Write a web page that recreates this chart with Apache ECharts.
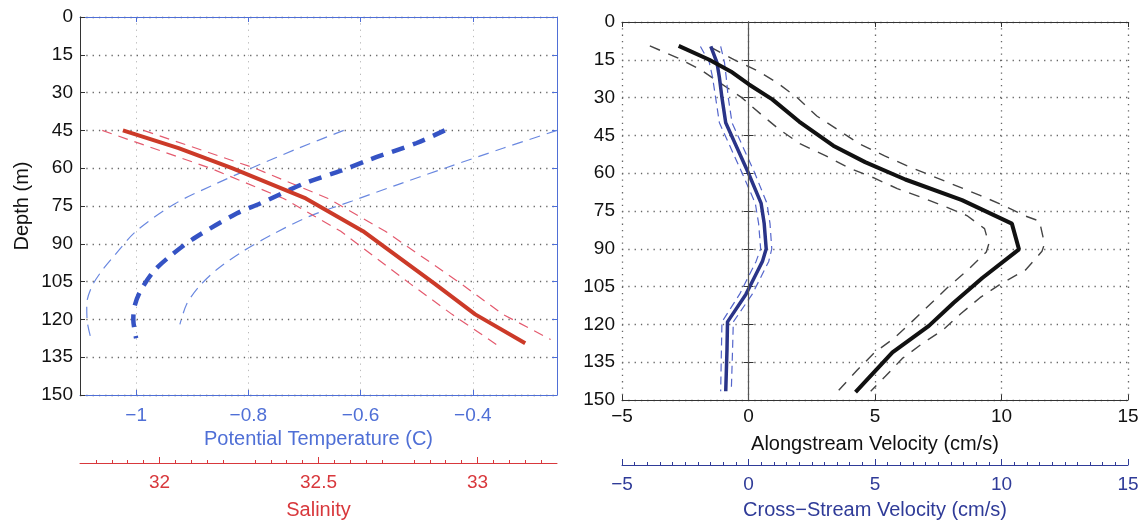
<!DOCTYPE html>
<html><head><meta charset="utf-8">
<script src="https://cdn.jsdelivr.net/npm/echarts@6/dist/echarts.min.js"></script>
<style>html,body{margin:0;padding:0;background:#fff}#c{width:1144px;height:525px}</style>
</head><body><div id="c"></div>
<script>
// ---------------- data ----------------
// Left panel: salinity profile (red) vs depth (m)
const salDepth   = [45, 52, 60, 72, 85, 106, 118, 129.5];
const salinity   = [31.885, 32.06, 32.228, 32.46, 32.64, 32.867, 32.993, 33.15];
const salLoDepth = [45, 60, 72, 85, 106, 118, 130];
const salLo      = [31.82, 32.16, 32.39, 32.57, 32.79, 32.92, 33.06];
const salHiDepth = [45, 60, 72, 85, 106, 118, 128];
const salHi      = [31.95, 32.30, 32.53, 32.71, 32.95, 33.08, 33.23];

// Left panel: potential temperature (blue dashed) vs depth
const tempDepth   = [45, 50, 56.5, 61, 66, 74, 78, 88, 95, 101, 109, 115, 120, 127.5];
const temperature = [-0.45, -0.50, -0.583, -0.635, -0.70, -0.779, -0.821, -0.898, -0.94, -0.969, -0.993, -1.003, -1.005, -1.0];
const tempLoDepth = [45, 52, 60, 66, 74, 85, 95, 101, 107, 114, 121, 128];
const tempLo      = [-0.63, -0.71, -0.795, -0.856, -0.93, -1.0, -1.04, -1.062, -1.079, -1.088, -1.087, -1.08];
const tempHiDepth = [45, 52, 60, 67, 73, 79, 86, 93, 100, 107, 114, 122];
const tempHi      = [-0.25, -0.345, -0.45, -0.54, -0.615, -0.69, -0.755, -0.81, -0.855, -0.888, -0.91, -0.922];

// Right panel: alongstream velocity (black) vs depth
const alongDepth   = [9.5, 15, 19.6, 24.8, 30.7, 39.5, 49.1, 55.6, 62.5, 70.7, 80, 90.2, 101.6, 111.4, 120.6, 131.1, 146.9];
const along        = [-2.76, -1.55, -0.70, 0.02, 0.94, 2.0, 3.35, 4.61, 6.2, 8.44, 10.41, 10.69, 9.24, 8.11, 7.13, 5.69, 4.23];
const alongLoDepth = [9.5, 14.3, 18.9, 29.9, 36.6, 42.5, 48.4, 53.1, 57.9, 61.8, 66.1, 70, 73, 76.8, 82, 88, 91.3, 98.4, 104.7, 111.8, 119, 125.6, 131, 138.2, 148];
const alongLo      = [-3.9, -2.78, -1.9, -0.28, 0.49, 1.2, 2.05, 3.06, 3.96, 4.94, 5.88, 6.94, 7.72, 8.63, 9.33, 9.5, 9.4, 8.67, 7.94, 7.2, 6.45, 5.74, 5.0, 4.29, 3.4];
const alongHiDepth = [10, 15.3, 19.3, 24, 29.9, 37.3, 42.5, 48.4, 53.1, 57, 64.8, 68.8, 72.7, 76.8, 79, 88, 91, 98.4, 104, 109.4, 115.7, 122.4, 127.6, 133.5, 140.6, 146.5];
const alongHi      = [-1.5, -0.5, 0.34, 1.12, 1.91, 2.7, 3.49, 4.4, 5.38, 6.25, 8.17, 9.15, 10.06, 10.89, 11.5, 11.7, 11.6, 10.95, 9.96, 9.15, 8.4, 7.66, 6.87, 6.08, 5.41, 4.83];

// Right panel: cross-stream velocity (navy) vs depth
const crossDepth = [9.7, 16, 22, 30, 40, 60, 72, 80, 90, 95, 100, 108, 119, 130, 146.5];
const cross      = [-1.49, -1.25, -1.15, -1.05, -0.9, 0.0, 0.5, 0.62, 0.7, 0.55, 0.3, -0.1, -0.83, -0.85, -0.9];
const crossLo    = [-1.9, -1.55, -1.42, -1.3, -1.15, -0.25, 0.27, 0.4, 0.48, 0.3, 0.05, -0.35, -1.05, -1.07, -1.1];
const crossHi    = [-1.1, -0.95, -0.88, -0.8, -0.65, 0.25, 0.73, 0.85, 0.92, 0.8, 0.55, 0.15, -0.6, -0.63, -0.68];

// tick labels
const tempTicks = [-1, -0.8, -0.6, -0.4];
const salTicks  = [32, 32.5, 33];
const velTicks  = [-5, 0, 5, 10, 15];
const zeroLine  = [0];

// ---------------- chart ----------------
const FONT = "'Liberation Sans', Arial, Helvetica, sans-serif";
const pairs = (xs, ds) => xs.map((x, i) => [x, ds[i]]);
const fmt = v => String(+v.toFixed(2)).replace('-', '\u2212');

const BLUE_AX = '#4f6fd6', RED_AX = '#d8383c', NAVY_AX = '#2f3b98', DARK = '#333';
const gridDot = { color: '#666', width: 1.3, type: [1.3, 5] };

function depthAxis(grid, pos, showLabels, lineColor, extra) {
  return Object.assign({
    type: 'value', gridIndex: grid, position: pos, inverse: true,
    min: 0, max: 150, interval: 15,
    axisLine: { show: true, lineStyle: { color: lineColor, width: 1 } },
    axisTick: { show: true, inside: true, length: 5, lineStyle: { color: lineColor } },
    axisLabel: { show: showLabels, color: '#111', fontSize: 19, fontFamily: FONT, margin: 7 },
    splitLine: { show: showLabels, lineStyle: gridDot }
  }, extra || {});
}

const option = {
  animation: false,
  backgroundColor: '#fff',
  grid: [
    { left: 80, top: 17, width: 477, height: 380, show: false },
    { left: 622, top: 22, width: 506, height: 381, show: false }
  ],
  xAxis: [
    // 0: temperature (left, bottom)
    { type: 'value', gridIndex: 0, position: 'bottom', min: -1.1, max: -0.25,
      name: 'Potential Temperature (C)', nameLocation: 'middle', nameGap: 34,
      nameTextStyle: { color: BLUE_AX, fontSize: 20, fontFamily: FONT },
      axisLine: { show: true, onZero: false, lineStyle: { color: BLUE_AX } },
      axisTick: { show: true, inside: true, length: 5, customValues: tempTicks, lineStyle: { color: BLUE_AX } },
      axisLabel: { customValues: tempTicks, color: BLUE_AX, fontSize: 19, fontFamily: FONT, margin: 11, formatter: fmt },
      splitLine: { show: true, lineStyle: { color: '#bbb', width: 1, type: [1.3, 5] } } },
    // 1: salinity (left, offset below)
    { type: 'value', gridIndex: 0, position: 'bottom', offset: 68, min: 31.75, max: 33.25, interval: 0.25,
      name: 'Salinity', nameLocation: 'middle', nameGap: 37,
      nameTextStyle: { color: RED_AX, fontSize: 20, fontFamily: FONT },
      axisLine: { show: true, onZero: false, lineStyle: { color: RED_AX } },
      axisTick: { show: true, inside: true, length: 6, customValues: salTicks, lineStyle: { color: RED_AX } },
      minorTick: { show: true, splitNumber: 5, length: 3, lineStyle: { color: RED_AX } },
      axisLabel: { customValues: salTicks, color: RED_AX, fontSize: 19, fontFamily: FONT, margin: 10, formatter: fmt },
      splitLine: { show: false } },
    // 2: left top mirror
    { type: 'value', gridIndex: 0, position: 'top', min: -1.1, max: -0.25,
      axisLine: { show: true, onZero: false, lineStyle: { color: BLUE_AX } },
      axisTick: { show: true, inside: true, length: 5, customValues: tempTicks, lineStyle: { color: BLUE_AX } },
      axisLabel: { show: false }, splitLine: { show: false } },
    // 3: alongstream (right, bottom)
    { type: 'value', gridIndex: 1, position: 'bottom', min: -5, max: 15, interval: 5,
      name: 'Alongstream Velocity (cm/s)', nameLocation: 'middle', nameGap: 34,
      nameTextStyle: { color: '#111', fontSize: 20, fontFamily: FONT },
      axisLine: { show: true, onZero: false, lineStyle: { color: DARK } },
      axisTick: { show: true, inside: true, length: 5, lineStyle: { color: DARK } },
      axisLabel: { color: '#111', fontSize: 19, fontFamily: FONT, margin: 7, formatter: fmt },
      splitLine: { show: true, lineStyle: gridDot } },
    // 4: cross-stream (right, offset below)
    { type: 'value', gridIndex: 1, position: 'bottom', offset: 65, min: -5, max: 15, interval: 5,
      name: 'Cross\u2212Stream Velocity (cm/s)', nameLocation: 'middle', nameGap: 35,
      nameTextStyle: { color: NAVY_AX, fontSize: 20, fontFamily: FONT },
      axisLine: { show: true, onZero: false, lineStyle: { color: NAVY_AX } },
      axisTick: { show: true, inside: true, length: 6, lineStyle: { color: NAVY_AX } },
      minorTick: { show: true, splitNumber: 10, length: 3, lineStyle: { color: NAVY_AX } },
      axisLabel: { color: NAVY_AX, fontSize: 19, fontFamily: FONT, margin: 10, formatter: fmt },
      splitLine: { show: false } },
    // 5: right top mirror
    { type: 'value', gridIndex: 1, position: 'top', min: -5, max: 15, interval: 5,
      axisLine: { show: true, onZero: false, lineStyle: { color: DARK } },
      axisTick: { show: true, inside: true, length: 5, lineStyle: { color: DARK } },
      axisLabel: { show: false }, splitLine: { show: false } }
  ],
  yAxis: [
    depthAxis(0, 'left', true, DARK, {
      name: 'Depth (m)', nameLocation: 'middle', nameGap: 48,
      nameTextStyle: { color: '#111', fontSize: 20, fontFamily: FONT }
    }),
    depthAxis(0, 'right', false, BLUE_AX),
    depthAxis(1, 'left', true, DARK),
    depthAxis(1, 'right', false, DARK)
  ],
  series: [
    // left: temperature CI
    { type: 'line', xAxisIndex: 0, yAxisIndex: 0, data: pairs(tempLo, tempLoDepth), symbol: 'none', smooth: 0.3,
      lineStyle: { color: '#6a88e0', width: 1.2, type: [11, 7] }, z: 2 },
    { type: 'line', xAxisIndex: 0, yAxisIndex: 0, data: pairs(tempHi, tempHiDepth), symbol: 'none', smooth: 0.3,
      lineStyle: { color: '#6a88e0', width: 1.2, type: [11, 7] }, z: 2 },
    // left: salinity CI
    { type: 'line', xAxisIndex: 1, yAxisIndex: 0, data: pairs(salLo, salLoDepth), symbol: 'none',
      lineStyle: { color: '#e45a6e', width: 1.2, type: [10, 7] }, z: 2 },
    { type: 'line', xAxisIndex: 1, yAxisIndex: 0, data: pairs(salHi, salHiDepth), symbol: 'none',
      lineStyle: { color: '#e45a6e', width: 1.2, type: [10, 7] }, z: 2 },
    // left: temperature mean
    { type: 'line', xAxisIndex: 0, yAxisIndex: 0, data: pairs(temperature, tempDepth), symbol: 'none', smooth: 0.3,
      lineStyle: { color: '#3553c4', width: 4.5, type: [13, 9] }, z: 3 },
    // left: salinity mean
    { type: 'line', xAxisIndex: 1, yAxisIndex: 0, data: pairs(salinity, salDepth), symbol: 'none',
      lineStyle: { color: '#cc3a28', width: 4 }, z: 4 },
    // right: alongstream CI
    { type: 'line', xAxisIndex: 3, yAxisIndex: 2, data: pairs(alongLo, alongLoDepth), symbol: 'none',
      lineStyle: { color: '#444', width: 1.4, type: [11, 9] }, z: 2,
      markLine: { silent: true, symbol: 'none', label: { show: false },
        lineStyle: { color: '#555', width: 1.2, type: 'solid' },
        data: zeroLine.map(v => ({ xAxis: v })) } },
    { type: 'line', xAxisIndex: 3, yAxisIndex: 2, data: pairs(alongHi, alongHiDepth), symbol: 'none',
      lineStyle: { color: '#444', width: 1.4, type: [11, 9] }, z: 2 },
    // right: cross-stream CI
    { type: 'line', xAxisIndex: 4, yAxisIndex: 2, data: pairs(crossLo, crossDepth), symbol: 'none',
      lineStyle: { color: '#5566cc', width: 1.2, type: [8, 5] }, z: 2 },
    { type: 'line', xAxisIndex: 4, yAxisIndex: 2, data: pairs(crossHi, crossDepth), symbol: 'none',
      lineStyle: { color: '#5566cc', width: 1.2, type: [8, 5] }, z: 2 },
    // right: means
    { type: 'line', xAxisIndex: 4, yAxisIndex: 2, data: pairs(cross, crossDepth), symbol: 'none',
      lineStyle: { color: '#2a3488', width: 3.5 }, z: 4 },
    { type: 'line', xAxisIndex: 3, yAxisIndex: 2, data: pairs(along, alongDepth), symbol: 'none',
      lineStyle: { color: '#111', width: 4 }, z: 5 }
  ]
};

const chart = echarts.init(document.getElementById('c'), null, { renderer: 'canvas' });
chart.setOption(option);
</script>
</body></html>
